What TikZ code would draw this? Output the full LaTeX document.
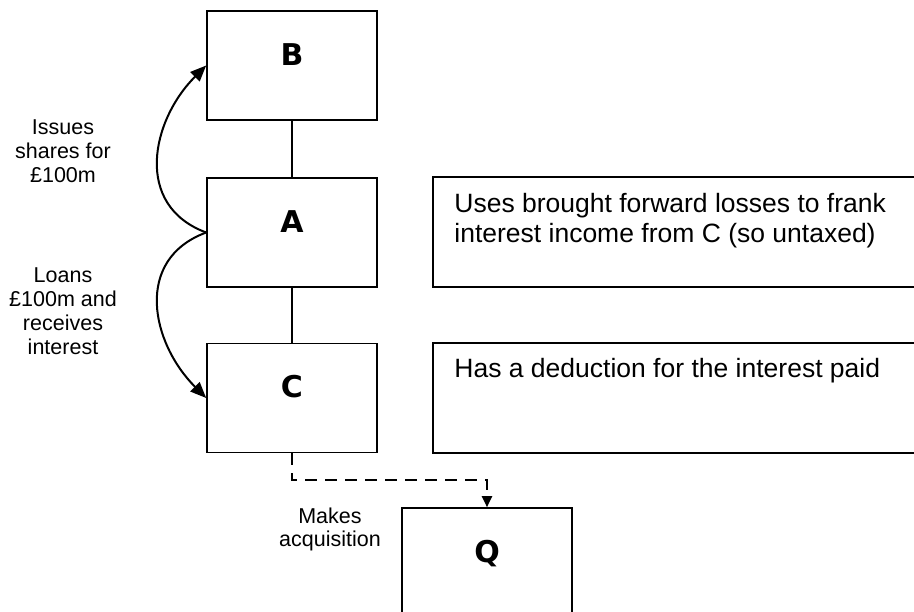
\documentclass[tikz,border=0pt]{standalone}
\usepackage{fontspec}
\setmainfont{Liberation Sans}
\newfontfamily\boxfont{DejaVu Sans}
\usetikzlibrary{arrows.meta}
\begin{document}
\begin{tikzpicture}[x=1pt,y=-1pt,
  entity/.style={draw, line width=1.6pt, minimum width=170pt, minimum height=109pt, inner sep=0pt,
    font=\boxfont\bfseries\fontsize{30}{36}\selectfont, text height=22pt, text depth=22pt},
  notebox/.style={draw, line width=1.6pt, minimum width=520pt, minimum height=110pt, inner sep=0pt},
  notetext/.style={anchor=base west, align=left, inner sep=0pt, font=\fontsize{26.5}{30}\selectfont},
  lbl/.style={anchor=base, align=center, inner sep=0pt, font=\fontsize{21.5}{24}\selectfont},
  link/.style={line width=1.3pt},
  curve/.style={line width=2pt, -{Triangle[length=16pt,width=13pt]}},
  dashline/.style={line width=2pt, dash pattern=on 12pt off 8pt, -{Triangle[length=11pt,width=10pt]}}
]
\useasboundingbox (0,0) rectangle (914,612);
\clip (0,0) rectangle (914,612);

\node[entity] (B) at (292,65.5) {B};
\node[entity] (A) at (292,232.5) {A};
\node[entity] (C) at (292,398) {C};
\node[entity] (Q) at (487,562.5) {Q};

\node[notebox] (D1) at (693,232) {};
\node[notebox] (D2) at (693,398) {};
\node[notetext] (T1) at ([shift={(22,66)}]D1.north west) {Uses brought forward losses to frank\\interest income from C (so untaxed)};
\node[notetext] (T2) at ([shift={(22,35)}]D2.north west) {Has a deduction for the interest paid};

\draw[link] (B.south) -- (A.north);
\draw[link] (A.south) -- (C.north);

\draw[curve] (A.west) .. controls +(-73,-27) and +(-55,55) .. (B.west);
\draw[curve] (A.west) .. controls +(-73,27) and +(-55,-55) .. (C.west);

\draw[dashline] (C.south) -- ++(0,27) -| (Q.north);

\node[lbl] (L1) at (63,183) {Issues\\shares for\\£100m};
\node[lbl] (L2) at (63,355) {Loans\\£100m and\\receives\\interest};
\node[lbl] (L3) at (330,547) {Makes\\acquisition};
\end{tikzpicture}
\end{document}
